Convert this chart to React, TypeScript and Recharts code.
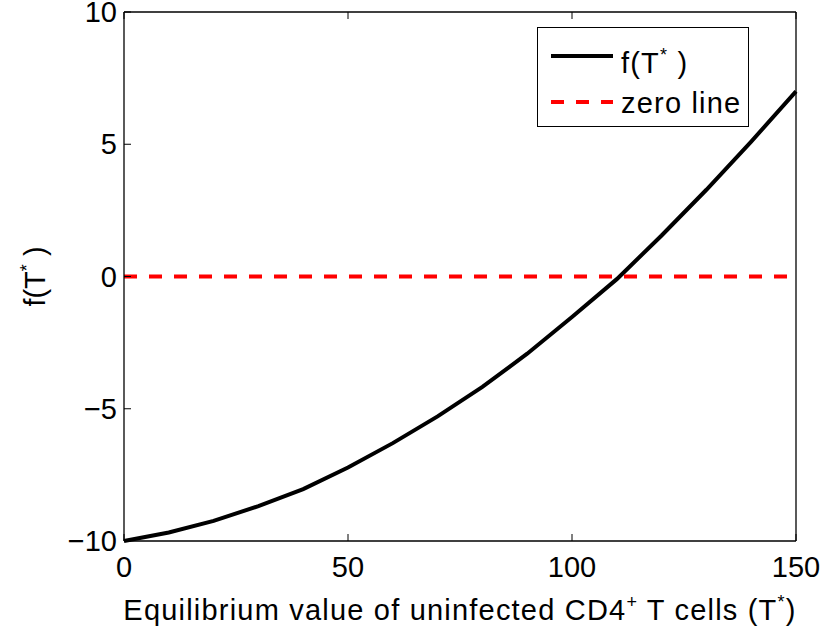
import React from "react";
import { LineChart, Line, XAxis, YAxis, Legend, Label } from "recharts";

const tValues = [0, 10, 20, 30, 40, 50, 60, 70, 80, 90, 100, 110, 120, 130, 140, 150];
const fValues = [-10, -9.68, -9.24, -8.68, -8.04, -7.22, -6.3, -5.29, -4.17, -2.92, -1.53, -0.1, 1.55, 3.28, 5.1, 7.0];
const zeroValues = [0, 0, 0, 0, 0, 0, 0, 0, 0, 0, 0, 0, 0, 0, 0, 0];
const xTicks = [0, 50, 100, 150];
const yTicks = [-10, -5, 0, 5, 10];

const data = tValues.map((t, i) => ({ t, f: fValues[i], zero: zeroValues[i] }));

const FONT = '"Liberation Sans", Arial, Helvetica, sans-serif';
const FS = 29;
const LS = 1.2;
const TICK = 7;

const fmt = (v: number) => String(v).replace("-", "\u2212");

const BottomTick = (p: any) => (
  <g>
    <line x1={p.x} x2={p.x} y1={p.y} y2={p.y - TICK} stroke="#000" strokeWidth={1} />
    <text x={p.x} y={p.y + 36} textAnchor="middle" fontSize={FS} fontFamily={FONT} fill="#000">
      {fmt(p.payload.value)}
    </text>
  </g>
);
const TopTick = (p: any) => (
  <line x1={p.x} x2={p.x} y1={p.y} y2={p.y + TICK} stroke="#000" strokeWidth={1} />
);
const LeftTick = (p: any) => (
  <g>
    <line x1={p.x} x2={p.x + TICK} y1={p.y} y2={p.y} stroke="#000" strokeWidth={1} />
    <text x={p.x - 7} y={p.y + 10} textAnchor="end" fontSize={FS} fontFamily={FONT} fill="#000">
      {fmt(p.payload.value)}
    </text>
  </g>
);
const RightTick = (p: any) => (
  <line x1={p.x} x2={p.x - TICK} y1={p.y} y2={p.y} stroke="#000" strokeWidth={1} />
);

const XLabel = (p: any) => {
  const vb = p.viewBox || {};
  const cx = vb.x + vb.width / 2;
  const by = vb.y + 79;
  return (
    <text x={cx} y={by} textAnchor="middle" fontSize={FS} fontFamily={FONT} fill="#000" letterSpacing={LS}>
      <tspan>Equilibrium value of uninfected CD4</tspan>
      <tspan dy={-12} fontSize={18}>+</tspan>
      <tspan dy={12}> T cells (T</tspan>
      <tspan dy={-12} fontSize={18}>*</tspan>
      <tspan dy={12}>)</tspan>
    </text>
  );
};

const YLabel = (p: any) => {
  const vb = p.viewBox || {};
  const cx = vb.x + vb.width - 79;
  const cy = vb.y + vb.height / 2;
  return (
    <text
      x={cx}
      y={cy}
      textAnchor="middle"
      fontSize={FS}
      fontFamily={FONT}
      fill="#000"
      transform={`rotate(-90, ${cx}, ${cy})`}
    >
      <tspan>f(T</tspan>
      <tspan dy={-12} fontSize={18}>*</tspan>
      <tspan dy={12}> )</tspan>
    </text>
  );
};

const LegendBox = (props: any) => {
  const payload = props.payload || [];
  return (
    <svg width={212} height={100} style={{ display: "block" }}>
      <rect x={0.5} y={0.5} width={211} height={99} fill="#fff" stroke="#000" strokeWidth={1} />
      {payload.map((e: any, i: number) => {
        const ly = i === 0 ? 29 : 75;
        const ty = i === 0 ? 46 : 86;
        const dash = e.payload && e.payload.strokeDasharray;
        return (
          <g key={i}>
            <line x1={14} x2={76} y1={ly} y2={ly} stroke={e.color} strokeWidth={4} strokeDasharray={dash} />
            <text x={84} y={ty} fontSize={FS} fontFamily={FONT} fill="#000" letterSpacing={LS}>
              {i === 0 ? (
                <>
                  <tspan>f(T</tspan>
                  <tspan dy={-12} fontSize={18}>*</tspan>
                  <tspan dy={12}> )</tspan>
                </>
              ) : (
                e.value
              )}
            </text>
          </g>
        );
      })}
    </svg>
  );
};

export default function App() {
  return (
    <div style={{ position: "absolute", left: 0, top: 0, background: "#fff" }}>
      <LineChart
        width={825}
        height={637}
        data={data}
        margin={{ top: 11, right: 28, bottom: 66, left: 64 }}
      >
        <XAxis
          xAxisId="b"
          dataKey="t"
          type="number"
          domain={[0, 150]}
          ticks={xTicks}
          height={30}
          tickSize={0}
          tickMargin={0}
          tickLine={false}
          tick={<BottomTick />}
          stroke="#000"
          strokeWidth={1.3}
          interval={0}
        >
          <Label content={<XLabel />} />
        </XAxis>
        <XAxis
          xAxisId="t"
          orientation="top"
          dataKey="t"
          type="number"
          domain={[0, 150]}
          ticks={xTicks}
          height={1}
          tickSize={0}
          tickMargin={0}
          tickLine={false}
          tick={<TopTick />}
          stroke="#000"
          strokeWidth={1.3}
          interval={0}
        />
        <YAxis
          yAxisId="l"
          type="number"
          domain={[-10, 10]}
          ticks={yTicks}
          width={60}
          tickSize={0}
          tickMargin={0}
          tickLine={false}
          tick={<LeftTick />}
          stroke="#000"
          strokeWidth={1.3}
          interval={0}
        >
          <Label content={<YLabel />} />
        </YAxis>
        <YAxis
          yAxisId="r"
          orientation="right"
          type="number"
          domain={[-10, 10]}
          ticks={yTicks}
          width={1}
          tickSize={0}
          tickMargin={0}
          tickLine={false}
          tick={<RightTick />}
          stroke="#000"
          strokeWidth={1.3}
          interval={0}
        />
        <Legend
          layout="horizontal"
          verticalAlign="middle"
          align="center"
          content={<LegendBox />}
          wrapperStyle={{ top: 27, left: 537, width: 212, height: 100 }}
        />
        <Line
          xAxisId="b"
          yAxisId="l"
          type="linear"
          dataKey="f"
          name="f(T*)"
          stroke="#000"
          strokeWidth={4}
          dot={false}
          isAnimationActive={false}
        />
        <Line
          xAxisId="b"
          yAxisId="l"
          type="linear"
          dataKey="zero"
          name="zero line"
          stroke="#ff0000"
          strokeWidth={4}
          strokeDasharray="13 12"
          dot={false}
          isAnimationActive={false}
        />
      </LineChart>
    </div>
  );
}
